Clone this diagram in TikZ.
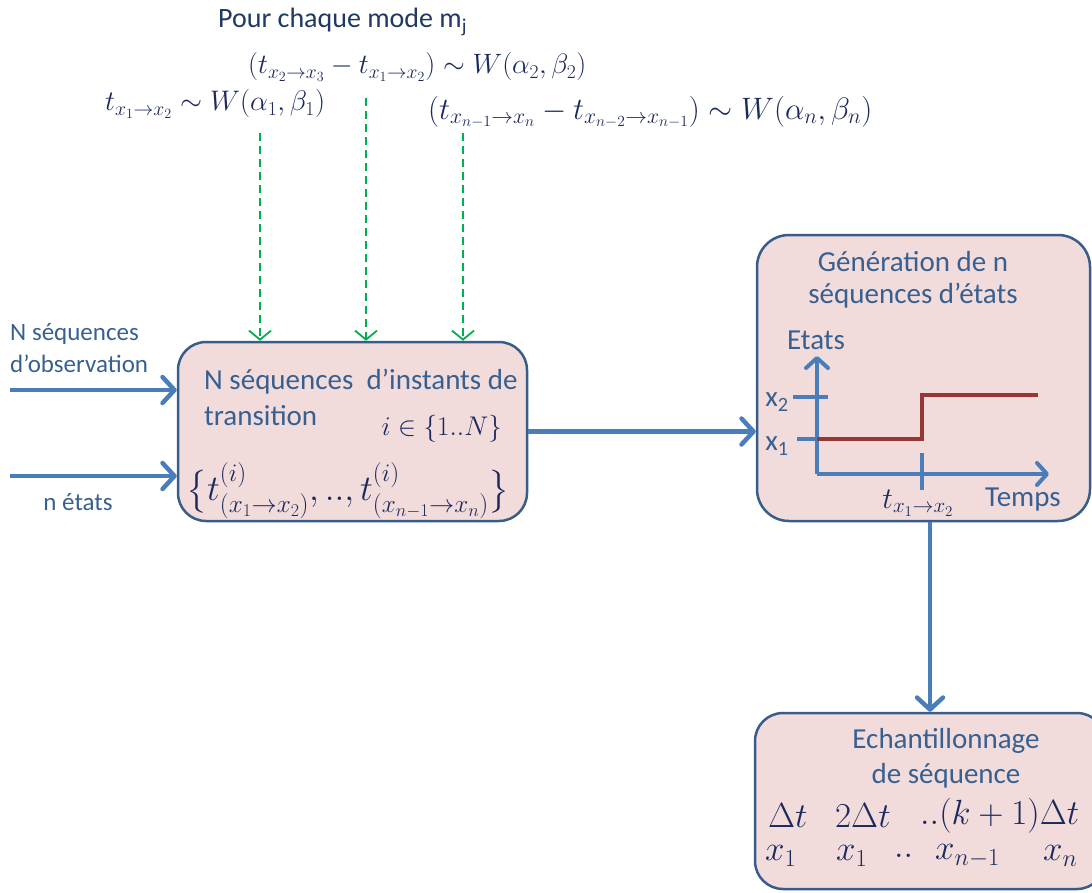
\RequirePackage{fix-cm}
\documentclass[tikz,border=0pt]{standalone}
\usepackage{fontspec}
\setmainfont{Carlito}
\usepackage{xcolor}
\usepackage{amsmath,amssymb}
\usetikzlibrary{arrows.meta}
\usetikzlibrary{positioning}
\usetikzlibrary{calc}
\definecolor{boxfill}{HTML}{F2DCDB}
\definecolor{boxline}{HTML}{385D8A}
\definecolor{flowblue}{HTML}{4A7EBB}
\definecolor{labblue}{HTML}{376092}
\definecolor{mathblue}{HTML}{1B2A5E}
\definecolor{titleblue}{HTML}{1F3864}
\definecolor{stepred}{HTML}{953735}
\definecolor{lawgreen}{HTML}{00B050}

\begin{document}
\begin{tikzpicture}[x=1pt,y=-1pt,
		blockbox/.style={rectangle, rounded corners=28pt, draw=boxline, line width=2.5pt, fill=boxfill},
		flow/.style={draw=flowblue, line width=4.5pt, -{Straight Barb[length=12pt,width=26pt,round]}},
		axis/.style={draw=flowblue, line width=4pt, -{Straight Barb[length=10pt,width=22pt,round]}},
		tickmark/.style={draw=flowblue, line width=4pt},
		law/.style={draw=lawgreen, line width=1.8pt, dash pattern=on 8pt off 5pt, -{Straight Barb[length=9pt,width=22pt]}},
		boxtext/.style={text=labblue, font=\fontsize{29}{33}\selectfont, inner sep=0pt},
		sidetext/.style={text=labblue, font=\fontsize{25}{29}\selectfont, inner sep=0pt},
		mathtext/.style={text=mathblue, inner sep=0pt},
		bigmath/.style={text=mathblue, font=\fontsize{35}{39}\selectfont, inner sep=0pt}]
	\useasboundingbox (0,0) rectangle (1092,892);
	% the three blocks
	\node[blockbox, minimum width=349pt, minimum height=179pt] (inst) at (352.5,431.5) {};
	\node[blockbox, rounded corners=32pt, minimum width=333pt, minimum height=286pt] (gen) at (923.5,378) {};
	\node[blockbox, minimum width=350pt, minimum height=176pt] (samp) at (930,801) {};
	% Weibull laws on top
	\node[text=titleblue, font=\fontsize{28}{32}\selectfont, inner sep=0pt, anchor=west] (mode) at (218,22) {Pour chaque mode m\textsubscript{j}};
	\node[mathtext, font=\fontsize{28}{32}\selectfont, anchor=west] (lawtwo) at (248,67) {$(t_{x_2\to x_3}-t_{x_1\to x_2})\sim W(\alpha_2,\beta_2)$};
	\node[mathtext, font=\fontsize{28.3}{32}\selectfont, anchor=west] (lawone) at (105,104) {$t_{x_1\to x_2}\sim W(\alpha_1,\beta_1)$};
	\node[mathtext, font=\fontsize{31}{35}\selectfont, anchor=west] (lawn) at (428,112) {$(t_{x_{n-1}\to x_n}-t_{x_{n-2}\to x_{n-1}})\sim W(\alpha_n,\beta_n)$};
	\coordinate (gone) at (260,133);
	\coordinate (gtwo) at (366,98);
	\coordinate (gn) at (463,133);
	\draw[law] (gone) -- (gone |- inst.north);
	\draw[law] (gtwo) -- (gtwo |- inst.north);
	\draw[law] (gn) -- (gn |- inst.north);
	% inputs
	\node[sidetext, anchor=west] (obsone) at (10,334) {N séquences};
	\node[sidetext, anchor=west] (obstwo) at (10,364) {d’observation};
	\node[sidetext] (states) at (78,502) {n états};
	\coordinate (obsin) at (10,390);
	\coordinate (statesin) at (10,476);
	\draw[flow] (obsin) -- (obsin -| inst.west);
	\draw[flow] (statesin) -- (statesin -| inst.west);
	% first block
	\node[boxtext, anchor=west] (insttitle) at (204,382) {N séquences\ \ d’instants de};
	\node[boxtext, anchor=west] (insttrans) at (204,416) {transition};
	\node[mathtext, font=\fontsize{27}{31}\selectfont, anchor=east] (instidx) at (502,429) {$i\in\{1..N\}$};
	\node[mathtext, font=\fontsize{36}{40}\selectfont, anchor=west] (instset) at (186,491) {$\big\{t^{(i)}_{(x_1\to x_2)},..,t^{(i)}_{(x_{n-1}\to x_n)}\big\}$};
	\draw[flow] (inst.east) -- (inst.east -| gen.west);
	% second block
	\node[boxtext] (gentitle) at (913,262) {Génération de n};
	\node[boxtext] (gensub) at (913,296) {séquences d’états};
	\coordinate (origin) at (817,474);
	\coordinate (ytop) at (817,356);
	\coordinate (xend) at (1049,474);
	\draw[axis] (origin) -- (ytop);
	\draw[axis] (origin) -- (xend);
	\draw[tickmark] (793,397) -- (828,397);
	\draw[tickmark] (797,439) -- (817,439);
	\draw[tickmark] (922,453) -- (922,490);
	\draw[stepred, line width=4pt] (817,439) -- (922,439) -- (922,395) -- (1038,395);
	\node[boxtext] (etats) at (816,340) {Etats};
	\node[boxtext] (xtwo) at (777,402) {x\textsubscript{2}};
	\node[boxtext] (xone) at (777,446) {x\textsubscript{1}};
	\node[mathtext, font=\fontsize{30}{34}\selectfont] (ttrans) at (918,503) {$t_{x_1\to x_2}$};
	\node[boxtext] (temps) at (1023,500) {Temps};
	\draw[flow] (gen.south -| samp.north) -- (samp.north);
	% third block
	\node[boxtext] (samptitle) at (946,741) {Echantillonnage};
	\node[boxtext] (sampsub) at (946,776) {de séquence};
	\node[bigmath, anchor=west] (dtone) at (768,816) {$\Delta t$};
	\node[bigmath, anchor=west] (dttwo) at (835,816) {$2\Delta t$};
	\node[bigmath, anchor=west] (dtk) at (920,816) {$..(k+1)\Delta t$};
	\node[bigmath, anchor=west] (xsone) at (765,856) {$x_1$};
	\node[bigmath, anchor=west] (xstwo) at (836,856) {$x_1$};
	\node[bigmath, anchor=west] (xsdots) at (894,856) {$..$};
	\node[bigmath, anchor=west] (xsprev) at (935,856) {$x_{n-1}$};
	\node[bigmath, anchor=west] (xsn) at (1043,856) {$x_n$};
\end{tikzpicture}
\end{document}
